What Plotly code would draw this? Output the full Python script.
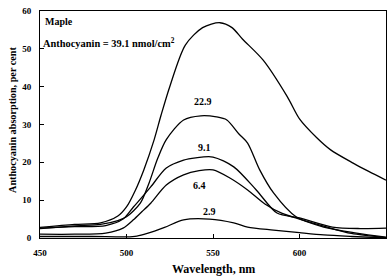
import plotly.graph_objects as go

# Wavelength (nm) and absorption (%) for each anthocyanin content
wl_391 = [450, 470, 485, 495, 500, 505, 510, 516, 520, 525, 534, 544, 554, 561, 567, 579, 593, 600, 610, 618, 631, 640, 650]
ab_391 = [2.8, 3.6, 4.0, 5.8, 8.2, 12.5, 18.0, 26.0, 32.5, 40.0, 51.0, 55.6, 56.9, 55.6, 52.6, 47.0, 37.3, 31.5, 26.5, 23.3, 19.8, 17.6, 15.3]

wl_229 = [450, 470, 485, 495, 500, 508, 513, 518, 523, 533, 543, 552, 558, 565, 570, 577, 585, 598, 614, 633, 650]
ab_229 = [2.5, 3.2, 3.6, 4.6, 5.6, 9.2, 14.5, 21.0, 26.0, 31.2, 32.3, 32.0, 31.2, 27.5, 25.1, 18.0, 11.9, 5.6, 2.9, 1.3, 0.2]

wl_91 = [450, 470, 488, 498, 504, 509, 514, 523, 533, 540, 550, 562, 575, 587, 600, 619, 635, 650]
ab_91 = [2.6, 3.0, 3.3, 5.0, 8.2, 10.8, 13.5, 18.5, 20.6, 21.2, 21.4, 18.8, 12.7, 6.6, 5.3, 2.9, 2.5, 2.6]

wl_64 = [450, 470, 488, 498, 504, 509, 514, 523, 533, 542, 550, 560, 570, 580, 590, 600, 615, 630, 650]
ab_64 = [1.0, 1.0, 1.3, 2.6, 4.8, 7.0, 9.2, 14.0, 16.7, 17.8, 18.0, 15.8, 12.7, 9.0, 6.5, 5.0, 3.0, 1.2, 0.1]

wl_29 = [450, 480, 500, 506, 512, 522, 533, 548, 562, 570, 585, 600, 614, 630, 650]
ab_29 = [0.4, 0.4, 0.3, 0.5, 1.2, 2.8, 4.8, 5.0, 4.0, 2.9, 2.1, 1.4, 0.8, 0.4, 0.0]

series = [(wl_391, ab_391), (wl_229, ab_229), (wl_91, ab_91), (wl_64, ab_64), (wl_29, ab_29)]

label_text = ["22.9", "9.1", "6.4", "2.9"]
label_x = [544, 545, 542, 548]
label_y = [36.2, 24.0, 13.8, 6.9]

x_ticks = [450, 500, 550, 600, 650]
y_ticks = [0, 10, 20, 30, 40, 50, 60]

FONT = "Liberation Serif"

fig = go.Figure()
for wx, ay in series:
    fig.add_trace(go.Scatter(x=wx, y=ay, mode="lines",
                             line=dict(color="black", width=1.3, shape="spline", smoothing=0.8),
                             showlegend=False, hoverinfo="skip"))

for t, lx, ly in zip(label_text, label_x, label_y):
    fig.add_annotation(x=lx, y=ly, text="<b>%s</b>" % t, showarrow=False,
                       font=dict(family=FONT, size=10, color="black"))

fig.add_annotation(x=0.01, y=0.955, xref="paper", yref="paper", xanchor="left", yanchor="middle",
                   text="<b>Maple</b>", showarrow=False,
                   font=dict(family=FONT, size=10, color="black"))
fig.add_annotation(x=0.003, y=0.86, xref="paper", yref="paper", xanchor="left", yanchor="middle",
                   text="<b>Anthocyanin = 39.1 nmol/cm<sup>2</sup></b>", showarrow=False,
                   font=dict(family=FONT, size=10.4, color="black"))

# axis titles
fig.add_annotation(x=0.5, y=-0.135, xref="paper", yref="paper", xanchor="center", yanchor="middle",
                   text="<b>Wavelength, nm</b>", showarrow=False,
                   font=dict(family=FONT, size=12, color="black"))
fig.add_annotation(x=-0.078, y=0.52, xref="paper", yref="paper", xanchor="center", yanchor="middle",
                   text="<b>Anthocyanin absorption, per cent</b>", showarrow=False, textangle=-90,
                   font=dict(family=FONT, size=10.2, color="black"))

fig.update_layout(
    width=392, height=276,
    margin=dict(l=40, r=6, t=11, b=38),
    paper_bgcolor="white", plot_bgcolor="white",
    font=dict(family=FONT, size=9, color="black"),
)
fig.update_xaxes(range=[450, 650], tickvals=x_ticks, ticktext=["<b>%d</b>" % v for v in x_ticks],
                 ticks="inside", ticklen=4, tickcolor="black", showline=True, linecolor="black",
                 linewidth=1, mirror=True, showgrid=False, zeroline=False, automargin=False,
                 ticklabelstandoff=6, tickfont=dict(family=FONT, size=9))
fig.update_yaxes(range=[0, 60], tickvals=y_ticks, ticktext=["<b>%d</b>" % v for v in y_ticks],
                 ticks="inside", ticklen=4, tickcolor="black", showline=True, linecolor="black",
                 linewidth=1, mirror=True, showgrid=False, zeroline=False, automargin=False,
                 ticklabelstandoff=6, tickfont=dict(family=FONT, size=9))

fig.write_html("out.html", post_script="document.body.style.margin='0';",
               config={"displayModeBar": False})
